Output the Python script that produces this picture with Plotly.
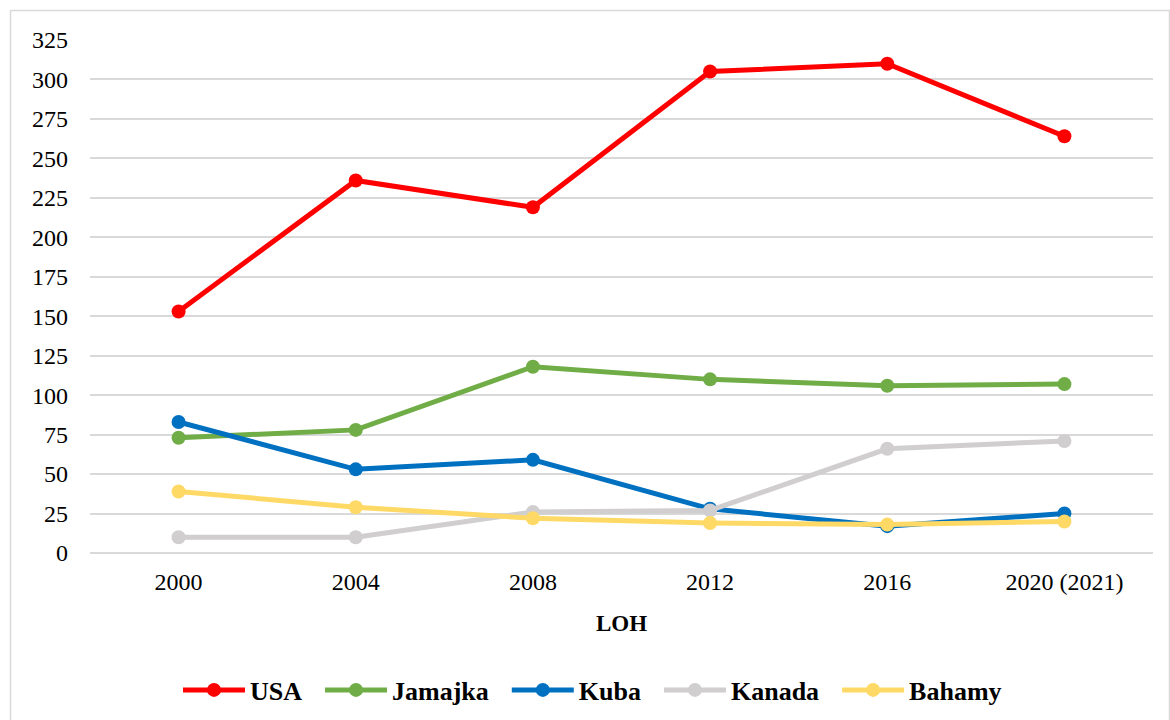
import plotly.graph_objects as go

years = ["2000", "2004", "2008", "2012", "2016", "2020 (2021)"]
usa = [153, 236, 219, 305, 310, 264]
jamajka = [73, 78, 118, 110, 106, 107]
kuba = [83, 53, 59, 28, 17, 25]
kanada = [10, 10, 26, 27, 66, 71]
bahamy = [39, 29, 22, 19, 18, 20]

series = [
    ("USA", usa, "#FF0000"),
    ("Jamajka", jamajka, "#70AD47"),
    ("Kuba", kuba, "#0070C0"),
    ("Kanada", kanada, "#D0CECE"),
    ("Bahamy", bahamy, "#FFD966"),
]

fig = go.Figure()
for name, vals, col in series:
    fig.add_trace(go.Scatter(
        x=years, y=vals, name="<b>" + name + "</b>\u00a0\u00a0", mode="lines+markers",
        line=dict(color=col, width=5),
        marker=dict(color=col, size=14),
    ))

W, H = 1170, 720
L, R, T, B = 90, 17, 40, 167
pw, ph = W - L - R, H - T - B

def px(x):
    return (x - L) / pw

def py(y):
    return (H - B - y) / ph

fig.add_shape(type="rect", xref="paper", yref="paper",
              x0=px(10.5), x1=px(1169.5), y0=py(730), y1=py(10.5),
              line=dict(color="#D9D9D9", width=1.5), fillcolor="rgba(0,0,0,0)",
              layer="below")

FONT = "Liberation Serif"
fig.update_layout(
    width=W, height=H,
    margin=dict(l=L, r=R, t=T, b=B, autoexpand=False),
    plot_bgcolor="white", paper_bgcolor="white",
    font=dict(family=FONT, size=24, color="black"),
    xaxis=dict(
        type="category", range=[-0.5, 5.5],
        showgrid=False, showline=False, zeroline=False,
        ticks="", tickfont=dict(size=24, family=FONT), ticklabelstandoff=12,
        title=dict(text="<b>LOH</b>", font=dict(size=23, family=FONT), standoff=20),
        automargin=False,
    ),
    yaxis=dict(
        range=[0, 325], tickvals=list(range(0, 326, 25)),
        showgrid=True, gridcolor="#D9D9D9", gridwidth=1.5,
        zeroline=True, zerolinecolor="#D9D9D9", zerolinewidth=1.5,
        showline=False, ticks="", ticklabelstandoff=21,
        tickfont=dict(size=24, family=FONT), automargin=False,
    ),
    legend=dict(
        orientation="h", x=px(599), xanchor="center", y=py(690), yanchor="middle",
        font=dict(size=26, family=FONT),
        itemwidth=62, tracegroupgap=0,
    ),
    showlegend=True,
)

fig.write_html("out.html", post_script="document.body.style.margin='0';",
               config={"displayModeBar": False})
